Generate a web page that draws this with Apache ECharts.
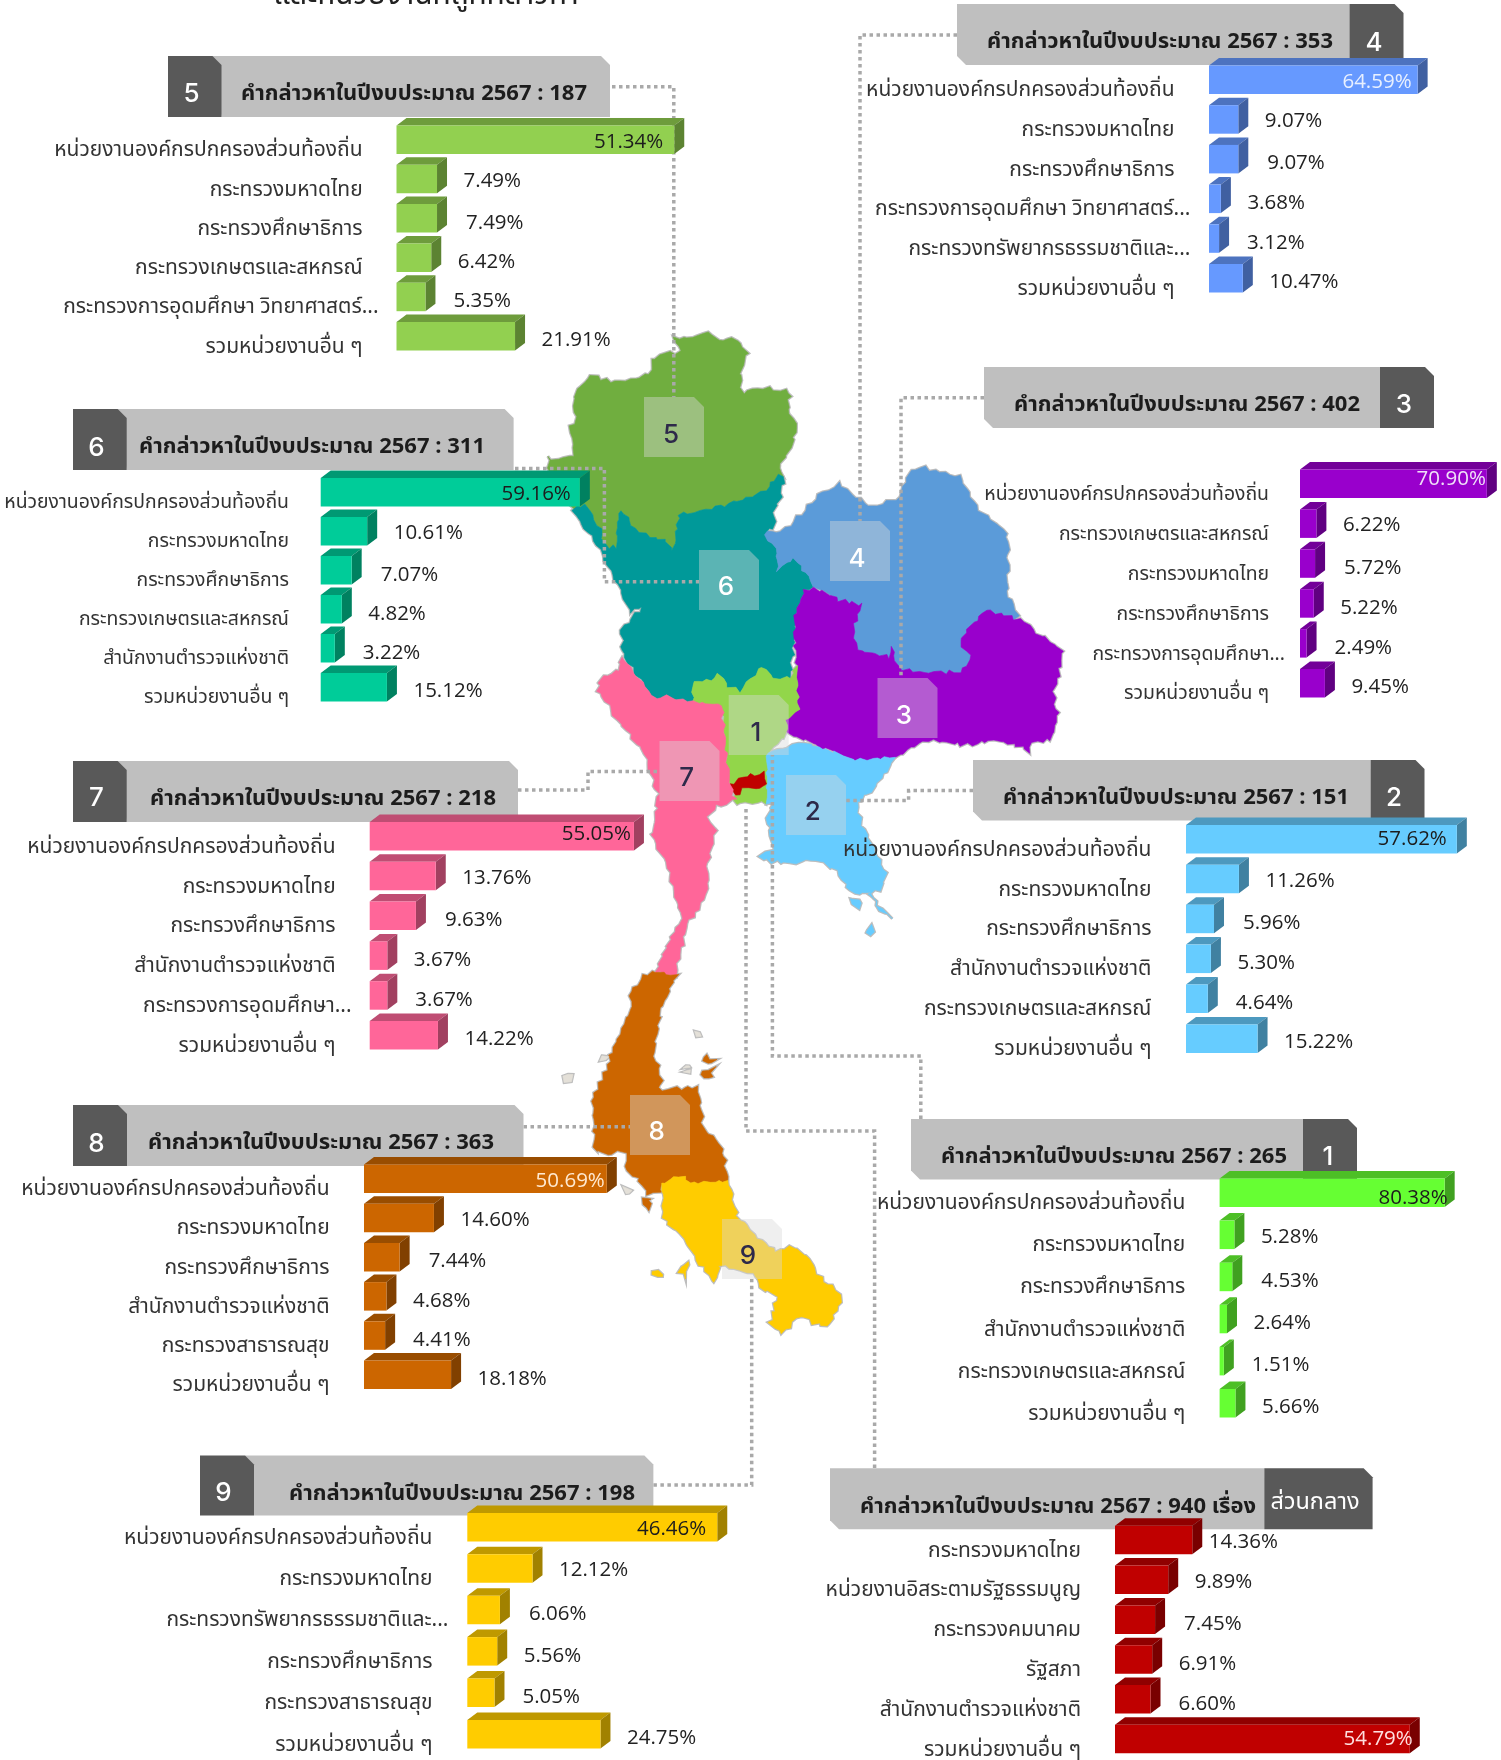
<!DOCTYPE html>
<html>
<head>
<meta charset="utf-8">
<title>คำกล่าวหาในปีงบประมาณ 2567</title>
<script src="https://cdn.jsdelivr.net/npm/echarts@6/dist/echarts.min.js"></script>
<style>
  html, body { margin: 0; padding: 0; background: #fff; }
  #chart { width: 1501px; height: 1760px; }
</style>
</head>
<body>
<div id="chart"></div>
<script>
const LOCAL = 'หน่วยงานองค์กรปกครองส่วนท้องถิ่น'
const MOI = 'กระทรวงมหาดไทย'
const MOE = 'กระทรวงศึกษาธิการ'
const MOAC = 'กระทรวงเกษตรและสหกรณ์'
const POLICE = 'สำนักงานตำรวจแห่งชาติ'
const OTHERS = 'รวมหน่วยงานอื่น ๆ'
const MOPH = 'กระทรวงสาธารณสุข'
const MHESI_LONG = 'กระทรวงการอุดมศึกษา วิทยาศาสตร์...'
const MHESI_SHORT = 'กระทรวงการอุดมศึกษา...'
const MNRE = 'กระทรวงทรัพยากรธรรมชาติและ...'

// data per region
const cats1 = [LOCAL, MOI, MOE, POLICE, MOAC, OTHERS]
const vals1 = [80.38, 5.28, 4.53, 2.64, 1.51, 5.66]
const cats2 = [LOCAL, MOI, MOE, POLICE, MOAC, OTHERS]
const vals2 = [57.62, 11.26, 5.96, 5.30, 4.64, 15.22]
const cats3 = [LOCAL, MOAC, MOI, MOE, MHESI_SHORT, OTHERS]
const vals3 = [70.90, 6.22, 5.72, 5.22, 2.49, 9.45]
const cats4 = [LOCAL, MOI, MOE, MHESI_LONG, MNRE, OTHERS]
const vals4 = [64.59, 9.07, 9.07, 3.68, 3.12, 10.47]
const cats5 = [LOCAL, MOI, MOE, MOAC, MHESI_LONG, OTHERS]
const vals5 = [51.34, 7.49, 7.49, 6.42, 5.35, 21.91]
const cats6 = [LOCAL, MOI, MOE, MOAC, POLICE, OTHERS]
const vals6 = [59.16, 10.61, 7.07, 4.82, 3.22, 15.12]
const cats7 = [LOCAL, MOI, MOE, POLICE, MHESI_SHORT, OTHERS]
const vals7 = [55.05, 13.76, 9.63, 3.67, 3.67, 14.22]
const cats8 = [LOCAL, MOI, MOE, POLICE, MOPH, OTHERS]
const vals8 = [50.69, 14.60, 7.44, 4.68, 4.41, 18.18]
const cats9 = [LOCAL, MOI, MNRE, MOE, MOPH, OTHERS]
const vals9 = [46.46, 12.12, 6.06, 5.56, 5.05, 24.75]
const catsCentral = [MOI, 'หน่วยงานอิสระตามรัฐธรรมนูญ', 'กระทรวงคมนาคม', 'รัฐสภา', POLICE, OTHERS]
const valsCentral = [14.36, 9.89, 7.45, 6.91, 6.60, 54.79]

const totals = { r1: '265', r2: '151', r3: '402', r4: '353', r5: '187', r6: '311', r7: '218', r8: '363', r9: '198', central: '940 เรื่อง' }

// map outlines in page pixels
const mapNorth = [[547,457],[557,460],[573,455],[574,443],[569,433],[576,417],[574,400],[578,390],[592,375],[611,382],[630,380],[643,375],[650,375],[654,357],[671,353],[681,352],[674,338],[688,338],[709,333],[723,343],[733,337],[747,352],[740,377],[743,392],[764,388],[790,392],[788,410],[797,428],[790,450],[779,467],[784,477],[778,475],[769,487],[753,497],[733,502],[705,510],[679,515],[676,533],[673,550],[664,540],[650,537],[635,530],[628,517],[621,510],[617,523],[617,547],[607,547],[600,528],[586,505],[574,508],[566,502],[557,483],[549,468]]
const mapUpperCentral = [[574,510],[586,505],[600,528],[607,547],[617,547],[617,523],[621,510],[628,517],[635,530],[650,537],[664,540],[673,550],[676,533],[679,515],[705,510],[733,502],[753,497],[769,487],[778,475],[784,477],[781,497],[774,512],[774,527],[766,533],[767,542],[776,547],[778,570],[795,557],[805,573],[815,587],[805,590],[797,607],[795,630],[793,653],[790,678],[774,678],[762,667],[750,678],[740,692],[729,687],[719,675],[712,680],[693,682],[693,702],[667,697],[650,697],[643,683],[623,655],[621,630],[643,607],[630,613],[624,597],[605,560],[588,533]]
const mapUpperEast = [[766,532],[781,532],[797,518],[819,495],[838,483],[860,500],[872,508],[900,497],[910,472],[920,467],[960,477],[976,507],[1007,533],[1008,560],[1007,597],[1020,615],[1015,618],[986,610],[967,630],[960,642],[972,658],[960,672],[929,672],[919,673],[898,667],[891,648],[890,657],[857,650],[853,630],[862,605],[840,600],[815,587],[805,573],[795,557],[778,570],[776,547],[767,542]]
const mapLowerEast = [[815,588],[840,600],[862,605],[853,630],[857,650],[890,657],[891,648],[898,667],[919,673],[929,672],[960,672],[972,658],[960,642],[967,630],[986,610],[1015,618],[1022,617],[1032,630],[1062,650],[1060,670],[1053,693],[1058,717],[1050,740],[1032,742],[1029,753],[1022,747],[995,740],[967,745],[929,740],[895,757],[857,760],[836,753],[812,743],[788,733],[786,720],[798,710],[797,667],[794,633],[797,607],[805,590]]
const mapCentral = [[693,682],[712,680],[719,675],[729,687],[740,692],[750,678],[762,667],[774,678],[790,678],[797,667],[798,710],[786,720],[788,733],[767,753],[767,802],[737,803],[733,790],[727,775],[726,753],[722,707],[693,702]]
const mapBangkok = [[731,785],[742,777],[765,773],[765,787],[743,789],[735,796]]
const mapWest = [[621,657],[643,683],[650,697],[667,697],[693,702],[722,705],[726,753],[732,794],[737,800],[717,806],[708,817],[715,827],[715,837],[707,863],[708,890],[695,913],[685,928],[677,969],[675,976],[655,972],[670,940],[682,919],[673,886],[668,869],[652,836],[655,823],[658,794],[648,764],[643,750],[623,727],[597,690],[602,678],[619,670]]
const mapEast = [[767,753],[788,747],[805,743],[836,753],[857,760],[895,757],[888,770],[872,791],[857,802],[862,827],[885,875],[880,890],[868,894],[892,919],[880,909],[872,892],[853,894],[837,871],[817,859],[790,863],[767,861],[760,856],[773,848],[767,817],[773,802],[767,802]]
const mapEastIsles = [[[850,898],[862,902],[858,908],[852,905]],[[870,925],[875,930],[870,935],[866,928]]]
const mapUpperSouth = [[657,972],[677,976],[662,1005],[658,1024],[653,1051],[662,1081],[658,1089],[675,1089],[698,1087],[703,1127],[722,1147],[728,1181],[690,1183],[680,1175],[662,1183],[660,1194],[648,1194],[637,1179],[628,1171],[625,1154],[618,1152],[607,1154],[595,1150],[593,1097],[605,1074],[615,1043],[632,1005],[630,992],[645,976]]
const mapUpperSouthIsles = [[[703,1055],[715,1060],[712,1063],[703,1062]],[[702,1070],[714,1068],[710,1080],[703,1080]],[[644,1197],[650,1197],[650,1210],[645,1208]]]
const mapLowerSouth = [[662,1183],[680,1175],[690,1183],[728,1181],[737,1215],[757,1238],[777,1252],[790,1246],[808,1256],[817,1275],[843,1296],[837,1311],[827,1326],[813,1323],[800,1315],[783,1334],[770,1323],[778,1296],[760,1288],[757,1275],[720,1265],[715,1282],[700,1265],[690,1246],[673,1227],[663,1219],[663,1200]]
const mapLowerSouthIsles = [[[680,1269],[688,1261],[687,1277],[680,1273]],[[652,1271],[663,1273],[662,1277],[653,1275]]]
const mapPaleIsles = [[[563,1076],[571,1075],[571,1081],[565,1081]],[[601,1055],[608,1056],[607,1060],[602,1060]],[[694,1031],[701,1032],[700,1036],[695,1036]],[[684,1064],[690,1065],[689,1068],[684,1068]],[[684,1071],[691,1071],[690,1074],[684,1074]],[[624,1187],[630,1190],[630,1193],[625,1193]]]

const thaiFont = 'Tahoma, "Noto Sans Thai", "Noto Sans", "DejaVu Sans", sans-serif'
const numFont = '"Open Sans", "Noto Sans", sans-serif'

const regionShapes = [
  ['north', [mapNorth], '#70AE3F'],
  ['upperCentral', [mapUpperCentral], '#009999'],
  ['upperEast', [mapUpperEast], '#5B9BD9'],
  ['lowerEast', [mapLowerEast], '#9900CC'],
  ['central', [mapCentral], '#92D64A'],
  ['bangkok', [mapBangkok], '#C00000'],
  ['west', [mapWest], '#FF6699'],
  ['east', [mapEast, ...mapEastIsles], '#66CCFF'],
  ['upperSouth', [mapUpperSouth, ...mapUpperSouthIsles], '#CC6600'],
  ['lowerSouth', [mapLowerSouth, ...mapLowerSouthIsles], '#FFCC00'],
  ['pale', mapPaleIsles, '#E4E0D8']
]

const panels = [
  { cats: cats5, vals: vals5, color: '#92D050', side: 'left', head: [168, 221.5, 610, 56, 117], titleX: 241, titleY: 96, total: totals.r5, badge: '5', badgeAt: [191.5, 94], bar: [396.5, 118, 39.3, 5.41], labelRight: 362.6, labelSize: 21, inset: 11, insideDy: 0, insideColor: '#1c1c1c' },
  { cats: cats4, vals: vals4, color: '#6699FF', side: 'right', head: [957, 1349.5, 1403.5, 4, 65], titleX: 987, titleY: 44, total: totals.r4, badge: '4', badgeAt: [1374, 43], bar: [1209, 58, 39.7, 3.23], labelRight: 1174.5, labelSize: 21, inset: 6, insideDy: 0, insideColor: '#e8f0ff' },
  { cats: cats3, vals: vals3, color: '#9900CC', side: 'right', head: [984, 1380, 1434, 367, 428], titleX: 1014, titleY: 407, total: totals.r3, badge: '3', badgeAt: [1404, 405], bar: [1300, 462, 39.9, 2.635], labelRight: 1269, labelSize: 19.4, inset: 1, insideDy: -7, insideColor: '#f0e0f8' },
  { cats: cats6, vals: vals6, color: '#00CC99', side: 'left', head: [73, 126.7, 513.6, 409, 470], titleX: 139, titleY: 449, total: totals.r6, badge: '6', badgeAt: [96.4, 448], bar: [320.7, 470.5, 39, 4.38], labelRight: 289, labelSize: 19.4, inset: 9, insideDy: 0, insideColor: '#1c1c1c' },
  { cats: cats7, vals: vals7, color: '#FF6699', side: 'left', head: [73, 126.7, 518, 761, 822], titleX: 150, titleY: 801, total: totals.r7, badge: '7', badgeAt: [96.4, 798], bar: [369.7, 814.5, 39.8, 4.8], labelRight: 335.6, labelSize: 21, inset: 3, insideDy: -4, insideColor: '#1c1c1c' },
  { cats: cats2, vals: vals2, color: '#66CCFF', side: 'right', head: [973, 1370.6, 1424.5, 760, 820.5], titleX: 1003, titleY: 800, total: totals.r2, badge: '2', badgeAt: [1394, 798], bar: [1186, 817.4, 39.9, 4.7], labelRight: 1151.4, labelSize: 21, inset: 10, insideDy: -2, insideColor: '#1c1c1c' },
  { cats: cats1, vals: vals1, color: '#66FF33', side: 'right', head: [911, 1303, 1357, 1119, 1179.5], titleX: 941, titleY: 1159, total: totals.r1, badge: '1', badgeAt: [1328, 1157], bar: [1219.6, 1171, 42.1, 2.8], labelRight: 1185.3, labelSize: 21, inset: -3, insideDy: 3, insideColor: '#1c1c1c' },
  { cats: cats8, vals: vals8, color: '#CC6600', side: 'left', head: [73, 127, 523.5, 1105, 1166], titleX: 148, titleY: 1145, total: totals.r8, badge: '8', badgeAt: [96.5, 1144], bar: [364, 1157, 39.2, 4.79], labelRight: 329.6, labelSize: 21, inset: 2, insideDy: 0, insideColor: '#ffe9d0' },
  { cats: cats9, vals: vals9, color: '#FFCC00', side: 'left', head: [200, 254, 653.4, 1455.5, 1515.6], titleX: 289, titleY: 1495.5, total: totals.r9, badge: '9', badgeAt: [223.5, 1493], bar: [467.3, 1505.4, 41.4, 5.38], labelRight: 432.4, labelSize: 21, inset: 11, insideDy: 0, insideColor: '#1c1c1c' },
  { cats: catsCentral, vals: valsCentral, color: '#C00000', side: 'right', head: [830, 1264.3, 1372.6, 1468.3, 1529.3], titleX: 860, titleY: 1509, total: totals.central, badge: 'ส่วนกลาง', badgeAt: [1315, 1504], bar: [1115, 1518.3, 39.8, 5.38], labelRight: 1081, labelSize: 21, inset: -3, insideDy: -2, insideColor: '#ffe0e0', firstRowDx: -10 }
]

// the numbered tiles on the map: left, top, number x, number y, dark digit?
const mapTiles = [
  ['5', 644, 397, 671, 435, true],
  ['6', 699, 550, 726, 587, false],
  ['4', 830, 521, 857, 559, false],
  ['3', 877.5, 678, 904, 716, false],
  ['1', 728.7, 695, 756, 733, true],
  ['7', 659.5, 741, 686.7, 778, true],
  ['2', 786, 775, 812.7, 812.4, true],
  ['8', 630, 1095, 656.7, 1132, false],
  ['9', 722, 1219, 748, 1256, true]
]

const connectors = [
  [[612, 86.7], [673.8, 86.7], [673.8, 397]],
  [[515, 468.5], [604.4, 468.5], [604.4, 581.7], [699, 581.7]],
  [[957, 35], [860, 35], [860, 521]],
  [[984, 397.7], [901, 397.7], [901, 678]],
  [[973, 790.6], [908.6, 790.6], [908.6, 800.4], [846, 800.4]],
  [[518, 790], [588, 790], [588, 771.5], [660, 771.5]],
  [[523.5, 1126.8], [630, 1126.8]],
  [[653.4, 1485], [751.7, 1485], [751.7, 1279]],
  [[920.8, 1119], [920.8, 1056], [772.4, 1056], [772.4, 755]],
  [[874.6, 1468], [874.6, 1131], [746, 1131], [746, 806]]
]

const BAR_DEPTH_X = 10
const BAR_DEPTH_Y = 7.5
const BAR_TOTAL = 36
const LABEL_GAP = 16.5
const CHAMFER = 9
// the source's value labels sit slightly off a regular grid, row by row
const ROW_DX = [0, 0, 2.5, 0, 1.5, 0]
const ROW_DY = [0, 0, 2.5, 2.5, 2.5, 2]

const darken = (c, t) => echarts.color.lerp(t, [c, '#000000'])

// ragged coast: cut edges short and push points by a field of position only,
// so two regions sharing a border still get the same border
function roughen(ring) {
  const out = []
  ring.forEach((p, i) => {
    const q = ring[(i + 1) % ring.length]
    const n = Math.max(1, Math.round(Math.hypot(q[0] - p[0], q[1] - p[1]) / 5))
    for (let k = 0; k < n; k++) {
      const x = p[0] + (q[0] - p[0]) * k / n
      const y = p[1] + (q[1] - p[1]) * k / n
      out.push([
        x + 1.5 * Math.sin(y * 0.83 + x * 0.31) + 0.8 * Math.sin(y * 2.1 - x * 1.3),
        y + 1.5 * Math.sin(x * 0.79 - y * 0.37) + 0.8 * Math.sin(x * 1.9 + y * 1.1)
      ])
    }
  })
  return out
}

function headerShapes(p) {
  const [a, b, c, top, bot] = p.head
  const light = '#BFBFBF'
  const dark = '#595959'
  const poly = (points, fill, z) => ({ type: 'polygon', z, shape: { points }, style: { fill } })
  if (p.side === 'left') {
    return [
      poly([[b - CHAMFER, top], [c - CHAMFER, top], [c, top + CHAMFER], [c, bot], [b, bot]], light, 3),
      poly([[a, top], [b - CHAMFER, top], [b, top + CHAMFER], [b, bot], [a, bot]], dark, 3)
    ]
  }
  return [
    poly([[a, top], [b, top], [b, bot], [a + CHAMFER, bot], [a, bot - CHAMFER]], light, 3),
    poly([[b, top], [c - CHAMFER, top], [c, top + CHAMFER], [c, bot], [b, bot]], dark, 3)
  ]
}

function tileShape(x, y) {
  const s = 60
  return [[x, y], [x + s - 10, y], [x + s, y + 10], [x + s, y + s], [x, y + s]]
}

function bar3d(panel, params, api) {
  const i = api.value(1)
  const v = api.value(0)
  const start = api.coord([0, i])
  const end = api.coord([v, i])
  const cy = start[1]
  const x0 = start[0]
  const x1 = end[0]
  const top = cy - BAR_TOTAL / 2
  const front = top + BAR_DEPTH_Y
  const bottom = cy + BAR_TOTAL / 2
  const c = panel.color
  const children = [
    { type: 'polygon', shape: { points: [[x0, front], [x0 + BAR_DEPTH_X, top], [x1 + BAR_DEPTH_X, top], [x1, front]] }, style: { fill: darken(c, 0.25) } },
    { type: 'polygon', shape: { points: [[x1, front], [x1 + BAR_DEPTH_X, top], [x1 + BAR_DEPTH_X, bottom - BAR_DEPTH_Y], [x1, bottom]] }, style: { fill: darken(c, 0.37) } },
    { type: 'rect', shape: { x: x0, y: front, width: x1 - x0, height: bottom - front }, style: { fill: c } }
  ]
  const label = panel.cats[i]
  children.push({
    type: 'text',
    style: {
      text: label,
      x: panel.labelRight + (label.endsWith('...') ? 16 : 0),
      y: cy + 16,
      align: 'right',
      verticalAlign: 'middle',
      fontFamily: thaiFont,
      fontSize: panel.labelSize,
      fill: '#333'
    }
  })
  const inside = v > 40
  const firstDx = i === 0 && panel.firstRowDx ? panel.firstRowDx : 0
  children.push({
    type: 'text',
    style: {
      text: v.toFixed(2) + '%',
      x: inside ? x1 - panel.inset : x1 + BAR_DEPTH_X + LABEL_GAP + ROW_DX[i] + firstDx,
      y: (front + bottom) / 2 + 2 + (inside ? panel.insideDy : ROW_DY[i]),
      align: inside ? 'right' : 'left',
      verticalAlign: 'middle',
      fontFamily: numFont,
      fontSize: 20.5,
      fill: inside ? panel.insideColor : '#222'
    }
  })
  return { type: 'group', children }
}

const roughShapes = regionShapes.map(([name, rings, color]) => [name, rings.map(roughen), color])
const features = roughShapes.map(([name, rings]) => ({
  type: 'Feature',
  properties: { name },
  geometry: { type: 'MultiPolygon', coordinates: rings.map(r => [r]) }
}))
echarts.registerMap('thailand', { type: 'FeatureCollection', features })

const allPts = roughShapes.flatMap(r => r[1].flat())
const minX = Math.min(...allPts.map(p => p[0]))
const maxX = Math.max(...allPts.map(p => p[0]))
const minY = Math.min(...allPts.map(p => p[1]))
const maxY = Math.max(...allPts.map(p => p[1]))
const geoBase = {
  map: 'thailand',
  silent: true,
  roam: false,
  projection: { project: p => p, unproject: p => p },
  left: minX,
  top: minY,
  width: maxX - minX,
  height: maxY - minY
}

const grids = []
const xAxes = []
const yAxes = []
const series = []
const graphics = []

panels.forEach((p, k) => {
  const [bx, by, pitch, scale] = p.bar
  const axisMax = Math.max(...p.vals)
  grids.push({ left: bx, top: by - (pitch - BAR_TOTAL) / 2, width: scale * axisMax, height: pitch * p.vals.length, outerBoundsMode: 'none' })
  xAxes.push({ gridIndex: k, type: 'value', min: 0, max: axisMax, show: false })
  yAxes.push({ gridIndex: k, type: 'category', inverse: true, data: p.cats, show: false })
  series.push({
    type: 'custom',
    xAxisIndex: k,
    yAxisIndex: k,
    z: 6,
    silent: true,
    animation: false,
    clip: false,
    encode: { x: 0, y: 1 },
    data: p.vals.map((v, i) => [v, i]),
    renderItem: (params, api) => bar3d(p, params, api)
  })
  graphics.push(...headerShapes(p))
  graphics.push({
    type: 'text', z: 4, x: p.titleX, y: p.titleY,
    style: { text: 'คำกล่าวหาในปีงบประมาณ 2567 : ' + p.total, fontFamily: thaiFont, fontSize: 22, fontWeight: 'bold', fill: '#1c1c1c', verticalAlign: 'middle' }
  })
  const isWord = p.badge.length > 1
  graphics.push({
    type: 'text', z: 4, x: p.badgeAt[0], y: p.badgeAt[1],
    style: { text: p.badge, fontFamily: isWord ? thaiFont : 'Inter, sans-serif', fontSize: isWord ? 23.5 : 26, fontWeight: isWord ? 'normal' : 500, fill: '#fff', align: 'center', verticalAlign: 'middle' }
  })
})

connectors.forEach(points => {
  graphics.push({ type: 'polyline', z: 2, shape: { points }, style: { stroke: '#A9A9A9', lineWidth: 3.5, lineDash: [3.5, 3.5], fill: 'none' } })
})

mapTiles.forEach(([num, x, y, nx, ny, dark]) => {
  graphics.push({ type: 'polygon', z: 3, shape: { points: tileShape(x, y) }, style: { fill: 'rgba(217,217,217,0.42)' } })
  graphics.push({ type: 'text', z: 4, x: nx, y: ny, style: { text: num, fontFamily: 'Inter, sans-serif', fontSize: 26, fontWeight: 500, fill: dark ? '#2E2A4A' : '#fff', align: 'center', verticalAlign: 'middle' } })
})

graphics.push({ type: 'text', z: 4, x: 426, y: -2, style: { text: 'และหน่วยงานที่ถูกกล่าวหา', fontFamily: thaiFont, fontSize: 30, fill: '#222', align: 'center', verticalAlign: 'middle' } })

const chart = echarts.init(document.getElementById('chart'), null, { renderer: 'canvas' })
chart.setOption({
  animation: false,
  backgroundColor: '#fff',
  geo: [
    { ...geoBase, z: 0, itemStyle: { areaColor: '#fff', borderColor: '#BDBDBD', borderWidth: 3 } },
    { ...geoBase, z: 1, itemStyle: { areaColor: '#ccc', borderWidth: 0 },
      regions: roughShapes.map(([name, , color]) => ({ name, silent: true, itemStyle: { areaColor: color, borderColor: color, borderWidth: 0.6 } })) }
  ],
  grid: grids,
  xAxis: xAxes,
  yAxis: yAxes,
  series,
  graphic: { elements: graphics }
})
</script>
</body>
</html>
